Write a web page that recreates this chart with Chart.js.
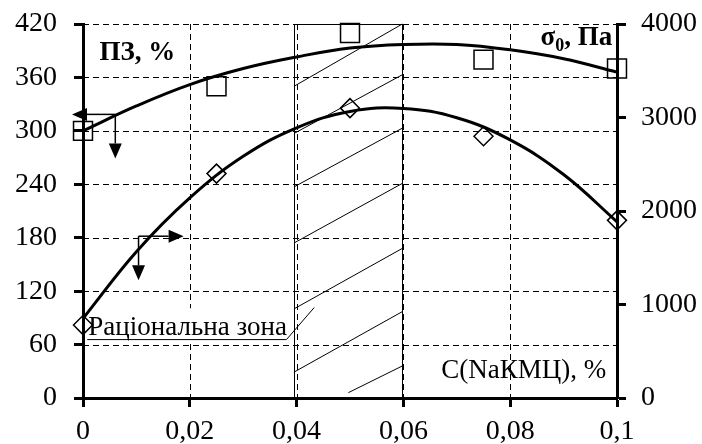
<!DOCTYPE html>
<html>
<head>
<meta charset="utf-8">
<script src="https://cdn.jsdelivr.net/npm/chart.js@4.4.1/dist/chart.umd.min.js"></script>
<style>
  html, body { margin: 0; padding: 0; background: #fff; }
  #wrap { width: 702px; height: 444px; }
</style>
</head>
<body>
<div id="wrap"><canvas id="chart"></canvas></div>
<script>
const FONT = '"Liberation Serif", "Times New Roman", serif';

// values
const xTickLabels = ['0', '0,02', '0,04', '0,06', '0,08', '0,1'];
const concentration = [0, 0.025, 0.05, 0.075, 0.1];
const pzValues = [300, 350, 410, 380, 370];          // ПЗ, %  -> left axis
const sigmaValues = [780, 2400, 3100, 2800, 1900];   // σ0, Па -> right axis

// trend curves
const trendX = [0, 0.01, 0.02, 0.03, 0.04, 0.05, 0.06, 0.07, 0.08, 0.09, 0.1];
const pzTrend = [300, 328, 352, 370, 383, 393, 397, 397, 391, 381, 366];
const sigmaTrend = [850, 1565, 2140, 2585, 2890, 3065, 3097, 2997, 2760, 2390, 1885];

// "rational zone": x range and hatch lines (x, left-axis y)
const zoneRange = [0.0395, 0.0598];
const hatchLines = [
  [0.0395, 350, 0.0598, 420],
  [0.0395, 297, 0.0598, 363],
  [0.0395, 237, 0.0598, 303],
  [0.0395, 174, 0.0598, 241],
  [0.0395, 100, 0.0598, 168],
  [0.0395, 29, 0.0598, 97],
  [0.0497, 6, 0.0598, 36]
];

// annotation anchors in data units
const zoneLabel = { text: 'Раціональна зона', x: 0.001, y: 70.5, boxTop: 100.8, boxBottom: 65.6, boxLeft: 0.0008, boxRight: 0.0381 };
const leader = [[0.0008, 65.6], [0.0381, 65.6], [0.0433, 101.6]];
const arrowsLeft = [
  [[0.00605, 318.5], [-0.00206, 318.5]],
  [[0.00605, 318.5], [0.00605, 269]]
];
const arrowsRight = [
  [[0.0104, 181.7], [0.01884, 181.7]],
  [[0.0104, 181.7], [0.0104, 132.3]]
];

function toPx(chart, x, y) {
  return [chart.scales.x.getPixelForValue(x), chart.scales.y.getPixelForValue(y)];
}

function drawArrow(ctx, p1, p2) {
  const ang = Math.atan2(p2[1] - p1[1], p2[0] - p1[0]);
  const len = 15, hw = 6.5;
  const bx = p2[0] - Math.cos(ang) * len, by = p2[1] - Math.sin(ang) * len;
  ctx.beginPath();
  ctx.moveTo(p1[0], p1[1]);
  ctx.lineTo(bx, by);
  ctx.stroke();
  ctx.beginPath();
  ctx.moveTo(p2[0], p2[1]);
  ctx.lineTo(bx - Math.sin(ang) * hw, by + Math.cos(ang) * hw);
  ctx.lineTo(bx + Math.sin(ang) * hw, by - Math.cos(ang) * hw);
  ctx.closePath();
  ctx.fill();
}

// dashed grid, drawn by hand (axis edges are left to the thick borders)
const gridPlugin = {
  id: 'dashGrid',
  beforeDatasetsDraw(chart) {
    const ctx = chart.ctx;
    const { left, right, top, bottom } = chart.chartArea;
    const xs = chart.scales.x, ys = chart.scales.y;
    ctx.save();
    ctx.strokeStyle = '#000';
    ctx.lineWidth = 1;
    ctx.setLineDash([6, 4]);
    ys.ticks.forEach(t => {
      if (t.value === ys.min) return;
      const y = Math.round(ys.getPixelForValue(t.value)) + 0.5;
      ctx.beginPath();
      ctx.moveTo(left, y);
      ctx.lineTo(right, y);
      ctx.stroke();
    });
    xs.ticks.forEach(t => {
      if (t.value === xs.min || t.value === xs.max) return;
      const x = Math.round(xs.getPixelForValue(t.value)) + 0.5;
      ctx.beginPath();
      ctx.moveTo(x, top);
      ctx.lineTo(x, bottom);
      ctx.stroke();
    });
    ctx.restore();
  }
};

const decorPlugin = {
  id: 'decor',
  beforeDatasetsDraw(chart) {
    const ctx = chart.ctx;
    const { top, bottom } = chart.chartArea;
    const xa = chart.scales.x.getPixelForValue(zoneRange[0]);
    const xb = chart.scales.x.getPixelForValue(zoneRange[1]);
    ctx.save();
    ctx.strokeStyle = '#000';
    ctx.lineWidth = 1;
    ctx.strokeRect(Math.round(xa) + 0.5, top + 0.5, Math.round(xb - xa), bottom - top);
    hatchLines.forEach(l => {
      const a = toPx(chart, l[0], l[1]);
      const b = toPx(chart, l[2], l[3]);
      ctx.beginPath();
      ctx.moveTo(a[0], a[1]);
      ctx.lineTo(b[0], b[1]);
      ctx.stroke();
    });

    // label box (white, covers grid) + leader line
    const bl = toPx(chart, zoneLabel.boxLeft, zoneLabel.boxTop);
    const br = toPx(chart, zoneLabel.boxRight, zoneLabel.boxBottom);
    ctx.fillStyle = '#fff';
    ctx.fillRect(bl[0], bl[1], br[0] - bl[0], br[1] - bl[1]);
    ctx.beginPath();
    leader.forEach((p, i) => {
      const q = toPx(chart, p[0], p[1]);
      if (i === 0) ctx.moveTo(q[0], q[1]); else ctx.lineTo(q[0], q[1]);
    });
    ctx.stroke();
    ctx.fillStyle = '#000';
    ctx.font = '27px ' + FONT;
    ctx.textBaseline = 'alphabetic';
    ctx.textAlign = 'left';
    const t = toPx(chart, zoneLabel.x, zoneLabel.y);
    ctx.fillText(zoneLabel.text, t[0], t[1]);
    ctx.restore();
  },
  afterDatasetsDraw(chart) {
    const ctx = chart.ctx;
    ctx.save();
    ctx.strokeStyle = '#000';
    ctx.fillStyle = '#000';
    ctx.lineWidth = 1.5;
    arrowsLeft.concat(arrowsRight).forEach(a => {
      drawArrow(ctx, toPx(chart, a[0][0], a[0][1]), toPx(chart, a[1][0], a[1][1]));
    });

    ctx.textBaseline = 'alphabetic';
    // ПЗ, %
    ctx.font = 'bold 27px ' + FONT;
    ctx.textAlign = 'left';
    let p = toPx(chart, 0.0031, 379.5);
    ctx.fillText('ПЗ, %', p[0], p[1]);

    // σ0, Па  (right aligned)
    p = toPx(chart, 0.0991, 396.4);
    const wS = ctx.measureText('σ').width;
    const wTail = ctx.measureText(', Па').width;
    ctx.font = 'bold 18px ' + FONT;
    const wSub = ctx.measureText('0').width;
    let x0 = p[0] - (wS + wSub + wTail);
    ctx.font = 'bold 27px ' + FONT;
    ctx.fillText('σ', x0, p[1]);
    ctx.font = 'bold 18px ' + FONT;
    ctx.fillText('0', x0 + wS, p[1] + 6);
    ctx.font = 'bold 27px ' + FONT;
    ctx.fillText(', Па', x0 + wS + wSub, p[1]);

    // x axis title inside plot
    ctx.font = '27px ' + FONT;
    ctx.textAlign = 'right';
    p = toPx(chart, 0.098, 22);
    ctx.fillText('C(NaКМЦ), %', p[0], p[1]);
    ctx.restore();
  }
};

const pts = (xs, ys) => xs.map((x, i) => ({ x: x, y: ys[i] }));

const tickFont = { family: FONT, size: 28 };
const gridCommon = { drawOnChartArea: false, color: '#000', lineWidth: 1, tickLength: 9, tickWidth: 3, tickColor: '#000' };

// fixed box sizes so the plot area lands where it does in the picture
const fixY = w => s => { s.width = w; s.paddingTop = 0; s.paddingBottom = 0; };

new Chart(document.getElementById('chart'), {
  type: 'scatter',
  data: {
    datasets: [
      {
        label: 'ПЗ',
        data: pts(concentration, pzValues),
        yAxisID: 'y',
        pointStyle: 'rect',
        pointRadius: 13.4,
        pointBorderWidth: 1.5,
        pointBorderColor: '#000',
        pointBackgroundColor: 'rgba(0,0,0,0)',
        showLine: false,
        clip: false
      },
      {
        label: 'σ0',
        data: pts(concentration, sigmaValues),
        yAxisID: 'y1',
        pointStyle: 'rectRot',
        pointRadius: 9.5,
        pointBorderWidth: 1.5,
        pointBorderColor: '#000',
        pointBackgroundColor: 'rgba(0,0,0,0)',
        showLine: false,
        clip: false
      },
      {
        label: 'ПЗ trend',
        data: pts(trendX, pzTrend),
        yAxisID: 'y',
        showLine: true,
        borderColor: '#000',
        borderWidth: 3,
        tension: 0.4,
        pointRadius: 0,
        clip: false
      },
      {
        label: 'σ0 trend',
        data: pts(trendX, sigmaTrend),
        yAxisID: 'y1',
        showLine: true,
        borderColor: '#000',
        borderWidth: 3,
        tension: 0.4,
        pointRadius: 0,
        clip: false
      }
    ]
  },
  options: {
    responsive: true,
    maintainAspectRatio: false,
    animation: false,
    devicePixelRatio: 1,
    layout: { padding: { top: 24, left: 0, right: 0, bottom: 0 } },
    plugins: { legend: { display: false }, tooltip: { enabled: false } },
    scales: {
      x: {
        type: 'linear',
        min: 0,
        max: 0.1,
        afterFit: s => { s.height = 46; s.paddingLeft = 0; s.paddingRight = 0; },
        ticks: {
          stepSize: 0.02,
          color: '#000',
          font: tickFont,
          padding: 8,
          maxRotation: 0,
          callback: (v, i) => xTickLabels[i]
        },
        grid: gridCommon,
        border: { display: true, color: '#000', width: 3 }
      },
      y: {
        position: 'left',
        min: 0,
        max: 420,
        afterFit: fixY(83),
        ticks: { stepSize: 60, color: '#000', font: tickFont, padding: 17, callback: v => String(v) },
        grid: gridCommon,
        border: { display: true, color: '#000', width: 3 }
      },
      y1: {
        position: 'right',
        min: 0,
        max: 4000,
        afterFit: fixY(85),
        ticks: { stepSize: 1000, color: '#000', font: tickFont, padding: 15, callback: v => String(v) },
        grid: gridCommon,
        border: { display: true, color: '#000', width: 3 }
      }
    }
  },
  plugins: [gridPlugin, decorPlugin]
});
</script>
</body>
</html>
